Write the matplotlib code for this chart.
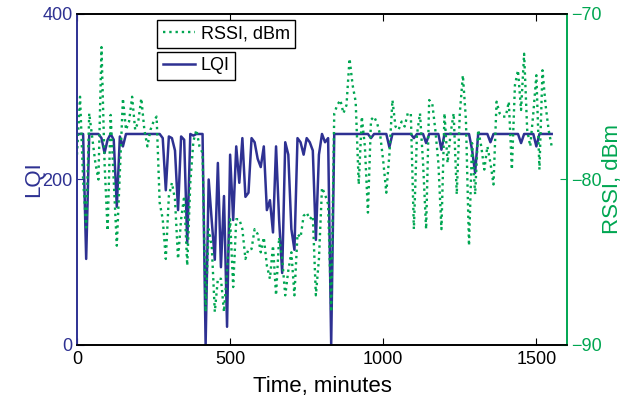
import numpy as np
import matplotlib.pyplot as plt

plt.rcParams['font.family'] = ['Liberation Sans', 'DejaVu Sans']

# sampling every 10 minutes
time_min = np.arange(0, 1560, 10)

lqi = [
    255, 255, 255, 104, 255, 255, 255, 255, 250, 232,   # 0-90
    248, 255, 248, 167, 252, 240, 255, 255, 255, 255,   # 100-190
    255, 255, 255, 255, 255, 255, 255, 255, 250, 187,   # 200-290
    252, 250, 235, 163, 252, 248, 123, 255, 253, 255,   # 300-390
    255, 255, 0, 200, 150, 103, 220, 94, 180, 22,       # 400-490
    230, 151, 240, 196, 250, 179, 184, 250, 245, 225,   # 500-590
    215, 240, 163, 175, 136, 240, 151, 87, 245, 230,    # 600-690
    140, 115, 250, 245, 230, 250, 245, 235, 127, 230,   # 700-790
    255, 245, 250, 0, 255, 255, 255, 255, 255, 255,     # 800-890
    255, 255, 255, 255, 255, 255, 250, 255, 255, 255,   # 900-990
    255, 255, 239, 255, 255, 255, 255, 255, 255, 255,   # 1000-1090
    250, 255, 255, 255, 244, 255, 255, 255, 255, 236,   # 1100-1190
    255, 255, 255, 255, 255, 255, 255, 255, 255, 236,   # 1200-1290
    208, 255, 255, 255, 255, 245, 255, 255, 255, 255,   # 1300-1390
    255, 255, 255, 255, 255, 244, 255, 255, 255, 255,   # 1400-1490
    240, 255, 255, 255, 255, 255,                       # 1500-1550
]

rssi = [
    -78.5, -75.0, -80.0, -82.9, -76.0, -77.5, -79.0, -80.0, -72.0, -79.0,   # 0-90
    -83.1, -76.1, -80.0, -84.0, -79.5, -75.1, -77.0, -76.5, -75.0, -77.0,   # 100-190
    -76.5, -75.1, -77.0, -78.0, -77.0, -76.5, -76.2, -81.4, -82.4, -84.8,   # 200-290
    -81.0, -80.2, -81.2, -84.8, -82.4, -81.0, -85.2, -80.2, -77.7, -77.0,   # 300-390
    -78.0, -78.4, -88.0, -83.0, -84.0, -88.0, -86.0, -86.0, -88.0, -85.5,   # 400-490
    -82.4, -86.5, -82.4, -82.4, -83.0, -84.8, -84.2, -84.2, -83.0, -83.3,   # 500-590
    -84.4, -83.5, -85.2, -86.0, -84.0, -87.0, -83.5, -84.8, -87.0, -85.5,   # 600-690
    -84.4, -87.0, -83.3, -83.5, -82.2, -82.0, -82.4, -82.2, -87.0, -84.8,   # 700-790
    -80.5, -80.9, -81.5, -88.0, -76.0, -75.5, -75.2, -76.0, -75.5, -72.7,   # 800-890
    -74.3, -75.3, -80.3, -76.2, -78.0, -82.0, -76.4, -76.2, -76.6, -77.3,   # 900-990
    -78.9, -80.8, -78.5, -75.2, -76.8, -77.0, -76.5, -76.8, -76.0, -76.0,   # 1000-1090
    -83.0, -77.3, -76.0, -79.0, -83.0, -75.2, -75.4, -77.0, -79.0, -83.0,   # 1100-1190
    -76.0, -79.0, -77.2, -76.0, -80.9, -76.0, -73.7, -76.4, -84.0, -77.8,   # 1200-1290
    -80.9, -77.0, -78.0, -79.4, -78.0, -79.0, -80.3, -75.3, -76.0, -76.2,   # 1300-1390
    -76.2, -75.3, -79.4, -74.3, -73.4, -75.8, -72.4, -77.0, -78.0, -76.0,   # 1400-1490
    -73.7, -79.4, -73.4, -75.5, -77.0, -78.0,                               # 1500-1550
]

blue = '#2e3192'
green = '#00a651'

fig = plt.figure(figsize=(6.3, 4.01), dpi=100)
ax = fig.add_axes([0.1222, 0.1397, 0.7778, 0.8254])
ax2 = ax.twinx()

l1, = ax.plot(time_min, lqi, color=blue, lw=1.8, label='LQI')
l2, = ax2.plot(time_min, rssi, color=green, lw=1.7, ls=':', label='RSSI, dBm')

ax.set_xlim(0, 1600)
ax.set_ylim(0, 400)
ax2.set_ylim(-90, -70)
ax.set_xticks([0, 500, 1000, 1500])
ax.set_yticks([0, 200, 400])
ax2.set_yticks([-90, -80, -70])

ax.tick_params(axis='x', direction='in', top=True, labelsize=13, length=5, pad=4)
ax.tick_params(axis='y', direction='in', colors=blue, labelsize=13, length=5, pad=3)
ax2.tick_params(axis='y', direction='in', colors=green, labelsize=13, length=5, pad=3)
ax.tick_params(axis='x', colors='black')

for a in (ax, ax2):
    a.spines['left'].set_color(blue)
    a.spines['right'].set_color(green)
    for s in a.spines.values():
        s.set_linewidth(1.2)

ax.set_xlabel('Time, minutes', fontsize=16, labelpad=6)
ax.set_ylabel('LQI', fontsize=16, color=blue, labelpad=-1)
ax2.set_ylabel('RSSI, dBm', fontsize=16, color=green, labelpad=0)

leg1 = ax2.legend(handles=[l2], loc='upper left', bbox_to_anchor=(0.164, 0.982),
                  fancybox=False, edgecolor='black', framealpha=1, fontsize=13,
                  handlelength=1.8, handletextpad=0.3, borderpad=0.3, borderaxespad=0)
leg1.get_frame().set_linewidth(1.0)
leg2 = ax2.legend(handles=[l1], loc='upper left', bbox_to_anchor=(0.164, 0.885),
                  fancybox=False, edgecolor='black', framealpha=1, fontsize=13,
                  handlelength=1.8, handletextpad=0.3, borderpad=0.3, borderaxespad=0)
leg2.get_frame().set_linewidth(1.0)
ax2.add_artist(leg1)

fig.savefig('out.png', dpi=100)
